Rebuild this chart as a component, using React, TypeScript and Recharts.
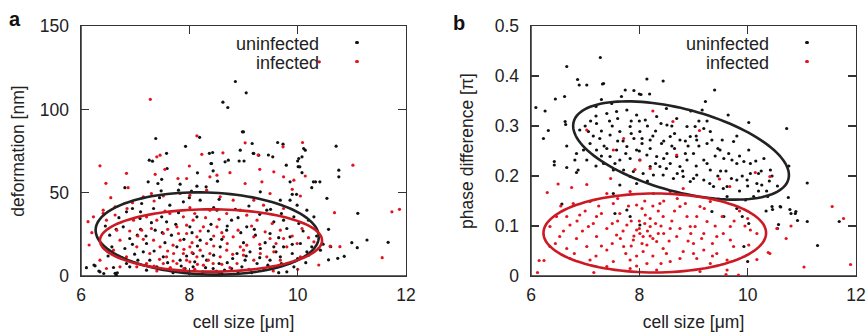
import { ScatterChart, Scatter, XAxis, YAxis, Label } from 'recharts';

type Pt = [number, number];

// panel a: cell size [um] vs deformation [nm]
const aUninfected: Pt[] = [
  [7.38, 82.5], [7.93, 77.8], [8.19, 83.2], [8.62, 104.3], [8.71, 101.1], [8.85, 116.7], [9.05, 109.9], [8.98, 86.5],
  [9.16, 79.5], [9.63, 80.1], [9.73, 79.1], [10.71, 77.9], [10.76, 63.5], [10.76, 59.5], [10.54, 46.6], [11.11, 37.6],
  [11.67, 20.2], [11.28, 21.6], [11.1, 17], [11.0, 20], [10.74, 10.6], [10.86, 11.8], [10.57, 28], [10.57, 9.7],
  [10.61, 17.6], [10.47, 19.1], [10.42, 15.5], [6.1, 5], [6.24, 6.6], [6.33, 3], [6.42, 1.5], [6.63, 1.6], [6.65, 0.5],
  [6.81, 53], [7.26, 69.5], [7.24, 56.5], [7.58, 73.6], [7.49, 58], [8.37, 73.6], [8.4, 67.5], [8.66, 68.5], [8.72, 69.5],
  [8.94, 75.5], [8.92, 69], [9.01, 69], [9.18, 73.6], [9.46, 72.6], [9.54, 71.5], [9.79, 66.5], [10.14, 75.5], [10.08, 71.5],
  [10.0, 69], [10.01, 65.6], [10.08, 62], [10.29, 56.5], [10.41, 56.5], [10.26, 53], [9.86, 56.5], [9.98, 49], [9.9, 49],
  [7.32, 68.9], [7.59, 64.5], [7.42, 55.5], [7.48, 51.1], [8.15, 61.9], [8.43, 74.1], [8.41, 67.5], [8.44, 63.1],
  [8.52, 56.9], [8.31, 53.5], [7.83, 55.1], [7.8, 51.5], [8.04, 50.9], [8.14, 53.9], [9.0, 86.5], [9.19, 73.5],
  [9.28, 72.5], [10.02, 70.5], [10.11, 76.5], [10.04, 65.5], [10.33, 56.5],
  [6.26, 6.1], [6.35, 2.5], [6.67, 1.9], [6.6, 5.1], [6.9, 5.5], [6.95, 40.5], [6.84, 38.5], [6.78, 29.5], [6.53, 24.5],
  [6.57, 17.5], [6.9, 22.5], [7.04, 24.5], [6.81, 16.5], [6.99, 13.1], [7.15, 14.5], [7.27, 9.5], [7.4, 5.5], [7.21, 19.5],
  [7.37, 27.5], [7.49, 35.5], [7.58, 32.5], [7.67, 24.5], [7.77, 17.5], [7.83, 9.5], [7.92, 4.5], [7.64, 4.5], [7.52, 11.5],
  [8.01, 29.5], [8.14, 35.5], [8.2, 21.5], [8.32, 9.5], [8.44, 4.5], [8.57, 17.5], [8.69, 27.5], [8.78, 33.5], [8.88, 13.5],
  [8.97, 5.5], [8.51, 39.5], [8.2, 45.5], [7.89, 44.5], [7.64, 42.5], [7.34, 40.5], [7.09, 34.5], [7.12, 43.5], [8.07, 13.5],
  [8.07, 5.5], [8.78, 4.5], [7.21, 3.5], [6.84, 7.5],
  [9.31, 50.5], [9.68, 45.5], [9.86, 45.5], [9.99, 42.5], [10.17, 39.5], [10.3, 35.5], [10.2, 33.5], [9.93, 35.5],
  [9.74, 33.5], [9.56, 32.5], [9.43, 39.5], [9.06, 29.5], [9.22, 24.5], [9.49, 25.5], [9.8, 28.5], [10.02, 31.5],
  [9.86, 23.5], [10.05, 19.5], [9.74, 17.5], [9.56, 17.5], [9.31, 16.5], [9.12, 14.5], [9.03, 9.5], [9.25, 7.5],
  [9.49, 9.5], [9.68, 11.5], [9.9, 13.5], [10.17, 14.5], [10.26, 17.5], [9.93, 5.5], [9.62, 5.5], [9.37, 4.5],
  [7.7, 2], [8.0, 1.5], [8.25, 2.5], [8.6, 1.5], [8.9, 2.5], [9.15, 2], [7.95, 12], [8.45, 12.5], [8.7, 8], [8.35, 27],
  [7.9, 22], [8.6, 22], [9.0, 20], [7.55, 20], [7.3, 32], [8.85, 40], [9.1, 42], [9.5, 40], [10.1, 27], [10.35, 24],
  [10.15, 8], [9.8, 2.5], [7.1, 28], [6.7, 35], [6.5, 12], [7.45, 47], [8.0, 47], [8.55, 46], [9.65, 2], [10.0, 10.5],
  [7.35, 15], [7.6, 8], [7.85, 6], [8.1, 8.5], [8.3, 5], [8.55, 7.5], [8.8, 10.5], [9.05, 12], [9.3, 11], [9.45, 6.5],
  [9.7, 7.5], [9.95, 9], [10.2, 12.5], [7.5, 26], [7.75, 31], [8.05, 26], [8.4, 31], [8.7, 30], [8.95, 26], [9.2, 28],
  [9.4, 20], [9.65, 23], [9.9, 19], [8.15, 18], [8.4, 22], [7.2, 24], [6.95, 19], [6.75, 11], [7.05, 9.5], [8.9, 35],
  [9.3, 37], [9.7, 37.5], [8.45, 41], [7.8, 38], [7.1, 38.5], [6.65, 28], [6.45, 30], [9.6, 14.5], [8.25, 12], [8.65, 3.5],
];

const aInfected: Pt[] = [
  [7.28, 106], [8.14, 84.1], [9.03, 79.9], [9.73, 77.5], [10.09, 80.1], [10.4, 128.5], [11.02, 66.5], [11.74, 38.5],
  [11.88, 40], [11.56, 11], [10.39, 6.6], [10.68, 38], [10.78, 17.6], [10.6, 17.9],
  [6.35, 66.1], [6.46, 55.6], [6.13, 32.6], [6.15, 18.6], [6.41, 37.6], [6.63, 36.6], [6.84, 61.6], [6.87, 53],
  [7.4, 71.5], [7.37, 61], [7.15, 47.5], [8.23, 73], [8.62, 73.9], [9.27, 72.6], [10.14, 60], [7.46, 72.5],
  [7.79, 58.5], [7.95, 58.5], [8.38, 59.5], [8.51, 60.5], [8.32, 51.5], [7.3, 49.5], [6.23, 35.5], [6.41, 39.5],
  [6.63, 41.5], [6.35, 9.5], [6.47, 4.5],
  [9.03, 55.5], [9.34, 56.5], [9.56, 62.5], [9.74, 59.5], [9.93, 57.5], [9.49, 49.5], [9.19, 45.5], [9.37, 42.5],
  [9.06, 36.5], [9.74, 40.5], [9.25, 33.5], [9.53, 31.5], [9.68, 27.5], [10.08, 28.5], [9.19, 23.5], [9.49, 22.5],
  [9.74, 22.5], [9.99, 19.5], [9.06, 18.5], [9.31, 13.5], [9.56, 14.5], [9.8, 17.5], [9.0, 12.5], [9.19, 9.5],
  [9.43, 11.5], [9.68, 9.5], [10.05, 11.5],
  [6.47, 33.5], [6.66, 27.5], [6.72, 21.5], [6.6, 15.5], [6.84, 11.5], [7.03, 17.5], [7.12, 27.5], [6.97, 33.5],
  [7.21, 35.5], [7.4, 33.5], [7.52, 25.5], [7.34, 21.5], [7.46, 17.5], [7.27, 13.5], [7.58, 11.5], [7.52, 7.5],
  [7.71, 13.5], [7.83, 21.5], [7.95, 25.5], [7.77, 29.5], [7.89, 35.5], [8.07, 33.5], [8.26, 29.5], [8.14, 23.5],
  [8.32, 19.5], [8.01, 17.5], [7.89, 13.5], [8.14, 11.5], [8.38, 13.5], [8.57, 11.5], [8.44, 7.5], [8.26, 6.5],
  [8.01, 8.5], [8.69, 15.5], [8.81, 23.5], [8.63, 23.5], [8.51, 29.5], [8.69, 37.5], [8.38, 39.5], [8.01, 41],
  [7.64, 37.5], [8.88, 7.5], [8.94, 17.5], [7.77, 7.5], [7.21, 7.5], [7.03, 5.5], [6.72, 5.5], [7.83, 49.5],
  [7.52, 48], [8.01, 48.5], [8.57, 47.5], [8.81, 45.5], [8.94, 39.5],
  [7.6, 15], [7.9, 16], [8.2, 15.5], [8.45, 18], [7.7, 9], [8.1, 4], [8.5, 3], [7.4, 3], [8.75, 5], [9.1, 4],
  [7.95, 30.5], [8.3, 35], [7.15, 22], [7.8, 25.5], [8.05, 20], [8.6, 26], [6.95, 44], [7.35, 45], [10.2, 23],
  [10.3, 20.5], [10.0, 4], [9.55, 3], [6.55, 47], [6.2, 26], [7.55, 64], [8.0, 66], [8.75, 62], [9.3, 64], [9.9, 52],
  [10.05, 48],
  [7.45, 10], [7.7, 18.5], [7.9, 4.5], [8.15, 7], [8.35, 9.5], [8.6, 7], [8.8, 13], [9.0, 15.5], [8.2, 27], [8.45, 24],
  [8.7, 19.5], [7.6, 28], [7.3, 28.5], [7.05, 24], [6.9, 27], [7.55, 39], [8.1, 37.5], [8.55, 34], [9.15, 30],
  [9.4, 26.5], [9.6, 19.5], [9.9, 24], [7.95, 9.5], [8.05, 14], [7.35, 6], [8.55, 2], [7.65, 5], [8.9, 27.5], [9.3, 19],
  [6.85, 40.5],
];

// panel b: cell size [um] vs phase difference [pi]
const bUninfected: Pt[] = [
  [7.28, 0.437], [6.66, 0.419], [6.86, 0.393], [6.89, 0.382], [7.03, 0.382], [7.34, 0.385], [8.14, 0.394], [8.44, 0.39],
  [9.39, 0.372], [7.74, 0.372], [8.0, 0.364], [8.03, 0.363], [6.09, 0.337], [6.26, 0.33], [6.45, 0.354], [6.62, 0.359],
  [6.32, 0.291], [6.23, 0.275], [6.63, 0.309], [6.64, 0.303], [6.66, 0.26], [6.43, 0.229], [6.43, 0.222], [6.66, 0.217],
  [10.02, 0.307], [10.72, 0.295], [11.1, 0.186], [11.29, 0.061], [10.92, 0.111], [11.1, 0.109], [10.8, 0.125],
  [10.89, 0.129], [10.61, 0.138], [10.46, 0.133], [10.75, 0.157], [10.57, 0.103], [10.34, 0.13], [11.69, 0.109],
  [7.32, 0.384], [8.19, 0.364], [7.9, 0.371], [7.67, 0.359], [7.3, 0.353], [7.49, 0.345], [7.2, 0.339], [6.87, 0.212],
  [6.84, 0.207], [6.57, 0.144],
  [6.9, 0.292], [7.06, 0.289], [7.21, 0.305], [7.4, 0.325], [7.58, 0.329], [7.77, 0.332], [7.95, 0.322], [8.11, 0.312],
  [8.32, 0.319], [8.51, 0.302], [8.69, 0.315], [8.88, 0.299], [8.94, 0.279], [8.75, 0.272], [8.57, 0.279], [8.41, 0.265],
  [8.2, 0.272], [8.01, 0.289], [7.83, 0.299], [7.64, 0.289], [7.46, 0.282], [7.27, 0.275], [7.09, 0.265], [6.97, 0.252],
  [7.21, 0.252], [7.4, 0.255], [7.58, 0.252], [7.77, 0.259], [7.95, 0.252], [8.14, 0.242], [8.32, 0.239], [8.51, 0.245],
  [8.69, 0.239], [8.88, 0.232], [8.75, 0.219], [8.57, 0.225], [8.38, 0.219], [8.2, 0.219], [8.01, 0.232], [7.83, 0.235],
  [7.64, 0.232], [7.46, 0.239], [7.34, 0.225], [7.52, 0.212], [7.71, 0.212], [7.89, 0.209], [8.07, 0.205], [8.26, 0.202],
  [8.44, 0.202], [8.63, 0.195], [8.81, 0.199], [8.94, 0.189], [7.83, 0.199], [7.64, 0.182], [6.81, 0.232], [6.84, 0.245],
  [7.03, 0.232], [7.55, 0.125], [7.77, 0.132], [8.01, 0.102], [7.83, 0.119], [7.52, 0.165],
  [9.22, 0.349], [9.16, 0.332], [9.64, 0.322], [9.03, 0.299], [9.19, 0.295], [9.31, 0.289], [9.06, 0.272], [9.34, 0.272],
  [9.53, 0.272], [9.74, 0.269], [9.49, 0.252], [9.56, 0.235], [9.71, 0.232], [9.93, 0.229], [10.02, 0.252], [10.3, 0.235],
  [10.42, 0.212], [10.2, 0.205], [10.05, 0.205], [9.99, 0.192], [10.17, 0.185], [9.8, 0.192], [9.62, 0.179], [9.37, 0.179],
  [9.19, 0.192], [9.06, 0.202], [9.31, 0.212], [9.19, 0.232], [9.0, 0.245], [9.8, 0.225], [10.26, 0.182], [10.76, 0.22],
  [10.45, 0.139], [10.6, 0.139], [10.78, 0.133], [10.88, 0.125], [10.55, 0.095], [10.37, 0.159], [10.11, 0.159],
  [9.96, 0.152], [9.8, 0.135], [9.9, 0.119], [10.02, 0.105], [9.93, 0.059], [10.0, 0.029], [9.34, 0.129], [9.56, 0.119],
  [9.62, 0.159],
  [7.5, 0.3], [7.9, 0.275], [8.3, 0.29], [8.6, 0.26], [8.2, 0.255], [7.7, 0.27], [8.05, 0.265], [8.45, 0.235], [8.9, 0.26],
  [9.1, 0.26], [9.4, 0.24], [9.6, 0.21], [9.9, 0.2], [10.2, 0.17], [9.45, 0.2], [8.8, 0.21], [7.3, 0.29], [7.1, 0.31],
  [8.0, 0.31], [8.6, 0.3], [9.25, 0.31], [9.8, 0.28], [10.15, 0.23], [10.4, 0.19],
  [7.2, 0.32], [7.45, 0.31], [7.6, 0.315], [7.85, 0.31], [8.15, 0.3], [8.4, 0.305], [8.65, 0.285], [8.85, 0.27],
  [9.05, 0.28], [9.25, 0.265], [9.45, 0.255], [9.65, 0.245], [9.85, 0.24], [10.05, 0.225], [10.25, 0.21], [10.45, 0.2],
  [10.55, 0.18], [10.35, 0.17], [10.0, 0.18], [9.7, 0.195], [9.5, 0.21], [9.25, 0.225], [9.05, 0.22], [8.85, 0.245],
  [8.65, 0.255], [8.45, 0.27], [8.25, 0.28], [8.05, 0.275], [7.85, 0.285], [7.6, 0.27], [7.35, 0.26], [7.15, 0.28],
  [7.0, 0.3], [7.55, 0.225], [7.75, 0.245], [8.0, 0.25], [8.3, 0.225], [8.5, 0.215], [8.7, 0.205], [9.0, 0.195],
  [9.3, 0.185], [9.55, 0.175], [9.85, 0.17], [8.15, 0.19], [7.95, 0.185], [7.3, 0.24], [7.2, 0.22], [9.1, 0.31],
  [8.95, 0.33], [8.5, 0.335],
];

const bInfected: Pt[] = [
  [8.25, 0.33], [7.71, 0.275], [7.03, 0.292], [7.52, 0.252], [8.01, 0.232], [7.92, 0.213], [8.2, 0.215], [8.69, 0.242],
  [8.62, 0.309], [7.47, 0.195], [9.11, 0.291], [9.48, 0.194], [9.67, 0.179], [10.14, 0.207], [10.41, 0.199],
  [11.56, 0.139], [11.77, 0.115], [11.9, 0.023], [11.04, 0.018], [10.71, 0.075], [10.8, 0.1], [10.41, 0.045],
  [6.15, 0.031], [6.24, 0.031], [6.12, 0.007], [6.3, 0.167], [6.5, 0.184], [6.75, 0.177], [7.03, 0.183], [9.83, 0.002],
  [9.6, 0.003], [7.16, 0.007], [10.54, 0.095],
  [7.4, 0.165], [7.83, 0.169], [8.26, 0.165], [8.57, 0.169], [8.81, 0.175], [6.78, 0.145], [7.09, 0.149], [7.52, 0.145],
  [7.95, 0.142], [8.38, 0.145], [8.75, 0.139], [6.66, 0.119], [6.47, 0.119], [6.9, 0.122], [7.21, 0.119], [7.64, 0.125],
  [8.11, 0.122], [8.44, 0.119], [8.88, 0.119], [6.35, 0.099], [6.72, 0.102], [7.06, 0.099], [7.4, 0.095], [7.77, 0.102],
  [7.95, 0.092], [8.2, 0.099], [8.57, 0.095], [8.94, 0.099], [6.53, 0.079], [6.84, 0.075], [7.21, 0.079], [7.58, 0.082],
  [7.89, 0.072], [8.07, 0.079], [8.32, 0.069], [8.69, 0.079], [8.01, 0.085], [8.14, 0.062], [6.35, 0.059], [6.66, 0.055],
  [7.03, 0.059], [7.4, 0.052], [7.71, 0.059], [8.07, 0.049], [8.44, 0.055], [8.81, 0.049], [6.72, 0.035], [7.09, 0.032],
  [7.52, 0.029], [7.83, 0.032], [8.14, 0.025], [8.57, 0.029], [7.4, 0.019], [7.83, 0.015], [8.32, 0.012],
  [9.12, 0.139], [9.31, 0.149], [9.06, 0.119], [9.25, 0.109], [9.53, 0.119], [9.68, 0.099], [9.03, 0.099], [9.19, 0.085],
  [9.43, 0.079], [9.68, 0.072], [10.05, 0.092], [10.17, 0.085], [9.0, 0.065], [9.19, 0.052], [9.43, 0.045], [9.62, 0.032],
  [9.31, 0.025], [9.06, 0.035], [9.74, 0.059], [10.02, 0.062], [10.17, 0.033], [10.38, 0.047], [9.62, 0.012], [9.12, 0.009],
  [8.0, 0.11], [8.15, 0.09], [8.3, 0.105], [7.9, 0.08], [8.25, 0.075], [8.45, 0.085], [8.05, 0.065], [7.7, 0.09],
  [8.6, 0.11], [7.6, 0.11], [8.35, 0.13], [7.8, 0.14], [8.1, 0.15], [8.5, 0.045], [7.95, 0.04], [7.25, 0.14], [6.95, 0.09],
  [7.3, 0.06], [8.9, 0.07], [9.2, 0.135], [8.7, 0.155], [9.4, 0.1], [9.85, 0.13], [10.0, 0.115], [6.55, 0.14],
  [7.0, 0.13], [7.3, 0.125], [7.5, 0.105], [7.65, 0.075], [7.85, 0.06], [8.0, 0.095], [8.2, 0.115], [8.35, 0.085],
  [8.55, 0.07], [8.75, 0.095], [8.95, 0.085], [9.15, 0.075], [9.35, 0.065], [9.55, 0.085], [9.75, 0.11], [9.95, 0.1],
  [8.05, 0.135], [8.25, 0.14], [8.45, 0.15], [8.65, 0.13], [8.85, 0.145], [7.6, 0.155], [7.15, 0.105], [6.85, 0.11],
  [6.6, 0.09], [6.45, 0.065], [6.8, 0.045], [7.2, 0.04], [7.5, 0.065], [7.75, 0.045], [8.25, 0.04], [8.75, 0.035],
  [9.0, 0.045], [9.35, 0.04], [8.4, 0.025], [7.95, 0.02], [8.1, 0.105], [8.2, 0.08], [7.85, 0.11], [8.4, 0.1],
];

// ellipses: centre, first half-axis, second half-axis (data units)
const aUninfectedEllipse: Pt[] = [[8.33, 25.5], [2.06, -2], [0, 24.6]];
const aInfectedEllipse: Pt[] = [[8.4, 21.3], [2.05, 0], [0, 18.7]];
const bUninfectedEllipse: Pt[] = [[8.77, 0.251], [1.982, -0.0574], [-0.198, -0.0798]];
const bInfectedEllipse: Pt[] = [[8.285, 0.086], [2.055, 0], [0, 0.079]];

const seriesNames = ['uninfected', 'infected'];
const xTicks = [6, 8, 10, 12];
const aYTicks = [0, 50, 100, 150];
const bYTicks = [0, 0.1, 0.2, 0.3, 0.4, 0.5];

const BLACK = '#111111';
const RED = '#e3141e';
const RED_LINE = '#cc1a24';
const AXIS = '#333333';
const TEXT = '#222222';

const CHART_H = 333;
const PLOT_TOP = 26;
const X_AXIS_H = 57;

const toPts = (d: Pt[]) => d.map(([x, y]) => ({ x, y }));

function outline(e: Pt[]) {
  const [c, u, v] = e;
  const out: { x: number; y: number }[] = [];
  for (let i = 0; i <= 120; i++) {
    const t = (i / 120) * Math.PI * 2;
    out.push({
      x: c[0] + Math.cos(t) * u[0] + Math.sin(t) * v[0],
      y: c[1] + Math.cos(t) * u[1] + Math.sin(t) * v[1],
    });
  }
  return out;
}

const dot = (props: any) => <circle cx={props.cx} cy={props.cy} r={1.6} fill={props.fill} />;
const nothing = () => <g />;

// box and inward tick marks, laid over the plot area
function PlotBox({ left, width, height, yTicks }: { left: number; width: number; height: number; yTicks: number[] }) {
  const x0 = xTicks[0];
  const x1 = xTicks[xTicks.length - 1];
  const y0 = yTicks[0];
  const y1 = yTicks[yTicks.length - 1];
  const len = 8;
  const lw = 1.5;
  const base = { position: 'absolute' as const, background: AXIS, pointerEvents: 'none' as const };
  const marks: any[] = [];
  xTicks.slice(1, -1).forEach((v) => {
    const px = left + ((v - x0) / (x1 - x0)) * width - lw / 2;
    marks.push(<div key={'xb' + v} style={{ ...base, left: px, top: PLOT_TOP + height - len, width: lw, height: len }} />);
    marks.push(<div key={'xt' + v} style={{ ...base, left: px, top: PLOT_TOP, width: lw, height: len }} />);
  });
  yTicks.slice(1, -1).forEach((v) => {
    const py = PLOT_TOP + (1 - (v - y0) / (y1 - y0)) * height - lw / 2;
    marks.push(<div key={'yl' + v} style={{ ...base, left: left, top: py, width: len, height: lw }} />);
    marks.push(<div key={'yr' + v} style={{ ...base, left: left + width - len, top: py, width: len, height: lw }} />);
  });
  return (
    <>
      <div
        style={{
          position: 'absolute',
          left: left - lw / 2,
          top: PLOT_TOP - lw / 2,
          width: width + lw,
          height: height + lw,
          border: `${lw}px solid ${AXIS}`,
          boxSizing: 'border-box',
          pointerEvents: 'none',
        }}
      />
      {marks}
    </>
  );
}

// legend drawn as plain html, right-aligned text with a dot after it
function ChartLegend({ textRight, dotX }: { textRight: number; dotX: number }) {
  const colors = [BLACK, RED];
  return (
    <>
      {seriesNames.map((name, i) => (
        <div key={name}>
          <div
            style={{
              position: 'absolute',
              left: textRight - 130,
              top: 35 + i * 18.5,
              width: 130,
              textAlign: 'right',
              fontSize: 18,
              lineHeight: '18px',
              color: TEXT,
              whiteSpace: 'nowrap',
            }}
          >
            {name}
          </div>
          <div
            style={{
              position: 'absolute',
              left: dotX - 1.6,
              top: 41.3 + i * 18.5,
              width: 3.2,
              height: 3.2,
              borderRadius: '50%',
              background: colors[i],
            }}
          />
        </div>
      ))}
    </>
  );
}

interface PanelProps {
  left: number;
  width: number;
  yAxisWidth: number;
  rightMargin: number;
  yDomain: [number, number];
  yTicks: number[];
  yLabel: string;
  yLabelOffset: number;
  uninfected: Pt[];
  infected: Pt[];
  uninfectedEllipse: Pt[];
  infectedEllipse: Pt[];
  legendRight: number;
  legendDot: number;
}

function Panel(p: PanelProps) {
  const tick = { fontSize: 17.5, fill: TEXT };
  const xDomain = [xTicks[0], xTicks[xTicks.length - 1]];
  const plotW = p.width - p.rightMargin - p.yAxisWidth;
  const plotH = CHART_H - X_AXIS_H - PLOT_TOP;
  return (
    <div style={{ position: 'absolute', left: p.left, top: 0, width: p.width, height: CHART_H }}>
      <ScatterChart width={p.width} height={CHART_H} margin={{ top: PLOT_TOP, right: p.rightMargin, bottom: 0, left: 0 }}>
        <XAxis
          dataKey="x"
          type="number"
          domain={xDomain}
          ticks={xTicks}
          height={X_AXIS_H}
          tickSize={0}
          tickMargin={13}
          tick={tick}
          stroke={AXIS}
          strokeWidth={1.5}
          tickLine={false}
        >
          <Label value="cell size [μm]" position="insideBottom" offset={5} style={{ fontSize: 17.5, fill: TEXT }} />
        </XAxis>
        <YAxis
          dataKey="y"
          type="number"
          domain={p.yDomain}
          ticks={p.yTicks}
          width={p.yAxisWidth}
          tickSize={0}
          tickMargin={12}
          tick={tick}
          stroke={AXIS}
          strokeWidth={1.5}
          tickLine={false}
        >
          <Label
            value={p.yLabel}
            angle={-90}
            position="insideLeft"
            offset={p.yLabelOffset}
            style={{ fontSize: 17.5, fill: TEXT, textAnchor: 'middle' }}
          />
        </YAxis>
        <Scatter name={seriesNames[0]} data={toPts(p.uninfected)} fill={BLACK} shape={dot} isAnimationActive={false} />
        <Scatter name={seriesNames[1]} data={toPts(p.infected)} fill={RED} shape={dot} isAnimationActive={false} />
        <Scatter
          data={outline(p.uninfectedEllipse)}
          fill="none"
          line={{ stroke: '#222', strokeWidth: 2.6 }}
          lineType="joint"
          shape={nothing}
          legendType="none"
          isAnimationActive={false}
        />
        <Scatter
          data={outline(p.infectedEllipse)}
          fill="none"
          line={{ stroke: RED_LINE, strokeWidth: 2.6 }}
          lineType="joint"
          shape={nothing}
          legendType="none"
          isAnimationActive={false}
        />
      </ScatterChart>
      <PlotBox left={p.yAxisWidth} width={plotW} height={plotH} yTicks={p.yTicks} />
      <ChartLegend textRight={p.legendRight} dotX={p.legendDot} />
    </div>
  );
}

export default function App() {
  return (
    <div
      style={{
        position: 'absolute',
        left: 0,
        top: 0,
        width: 867,
        height: 333,
        background: '#fff',
        fontFamily: '"Liberation Sans", Arial, Helvetica, sans-serif',
        overflow: 'hidden',
      }}
    >
      <Panel
        left={0}
        width={430}
        yAxisWidth={81}
        rightMargin={24}
        yDomain={[0, 150]}
        yTicks={aYTicks}
        yLabel="deformation [nm]"
        yLabelOffset={18}
        uninfected={aUninfected}
        infected={aInfected}
        uninfectedEllipse={aUninfectedEllipse}
        infectedEllipse={aInfectedEllipse}
        legendRight={319}
        legendDot={357}
      />
      <Panel
        left={430}
        width={437}
        yAxisWidth={101}
        rightMargin={11}
        yDomain={[0, 0.5]}
        yTicks={bYTicks}
        yLabel="phase difference [π]"
        yLabelOffset={37}
        uninfected={bUninfected}
        infected={bInfected}
        uninfectedEllipse={bUninfectedEllipse}
        infectedEllipse={bInfectedEllipse}
        legendRight={339}
        legendDot={377}
      />
      <div style={{ position: 'absolute', left: 9, top: 9, fontSize: 20, lineHeight: '20px', fontWeight: 'bold', color: '#111' }}>
        a
      </div>
      <div style={{ position: 'absolute', left: 453, top: 13, fontSize: 20, lineHeight: '20px', fontWeight: 'bold', color: '#111' }}>
        b
      </div>
    </div>
  );
}
